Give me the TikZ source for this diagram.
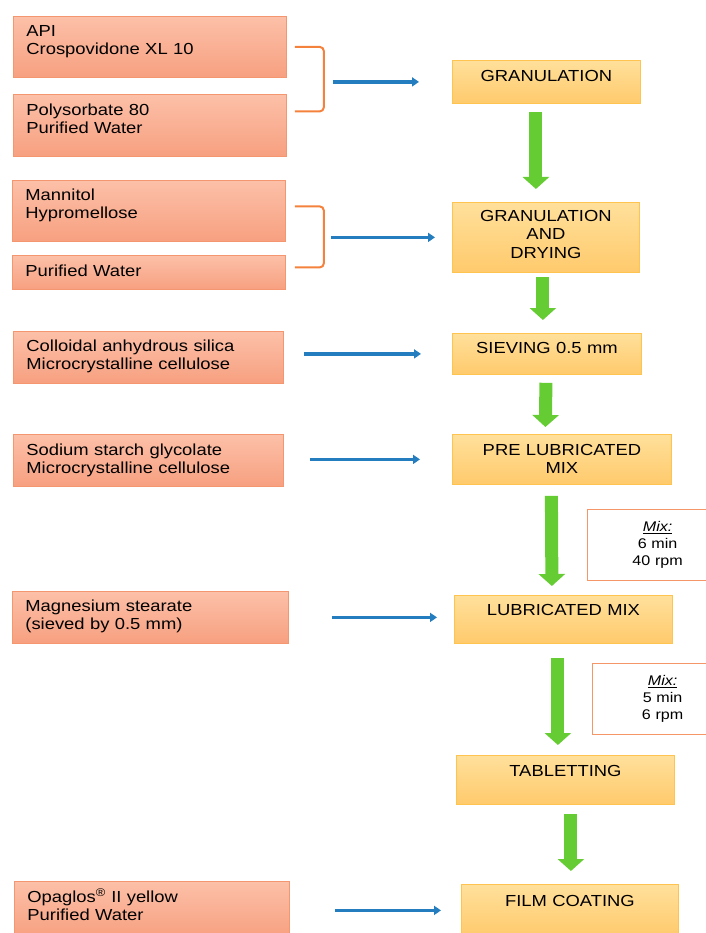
\documentclass[tikz,border=0pt]{standalone}
\usepackage{fontspec}
\setmainfont{Liberation Sans}[FakeStretch=1.15]
\usetikzlibrary{arrows.meta}

\definecolor{ingrtop}{RGB}{252,192,168}
\definecolor{ingrbot}{RGB}{247,160,128}
\definecolor{ingrline}{RGB}{244,150,112}
\definecolor{stagetop}{RGB}{255,224,155}
\definecolor{stagebot}{RGB}{255,202,108}
\definecolor{stageline}{RGB}{255,196,80}
\definecolor{flowgreen}{RGB}{102,204,51}
\definecolor{feedblue}{RGB}{36,125,190}
\definecolor{braceorange}{RGB}{245,130,60}
\definecolor{mixline}{RGB}{245,150,105}

\begin{document}
\begin{tikzpicture}[x=1pt, y=-1pt,
    ingr/.style={draw=ingrline, line width=0.8pt, top color=ingrtop, bottom color=ingrbot,
        anchor=north west, align=left, inner xsep=13pt, inner ysep=0pt,
        text width=247pt, text height=20pt, font=\fontsize{16}{18}\selectfont},
    stage/.style={draw=stageline, line width=0.8pt, top color=stagetop, bottom color=stagebot,
        anchor=north west, align=center, inner xsep=4pt, inner ysep=0pt,
        text height=21pt, font=\fontsize{16}{18.5}\selectfont},
    mixbox/.style={draw=mixline, line width=1.2pt, fill=white, anchor=north west,
        align=center, inner xsep=4pt, inner ysep=0pt, text width=132pt,
        text height=22pt, text depth=49pt, font=\fontsize{14}{17}\selectfont},
    flow/.style={draw=flowgreen, line width=13pt, -{Triangle[width=26pt,length=12pt]}},
    feed/.style={draw=feedblue, line width=3.5pt, -{Triangle[width=9pt,length=7pt]}},
    brace/.style={draw=braceorange, line width=2pt, rounded corners=4pt}]

    \useasboundingbox (0,0) rectangle (705,933);

    % Ingredients
    \node[ingr, text depth=41pt] (api) at (13,16) {API\\Crospovidone XL 10};
    \node[ingr, text height=21pt, text depth=41pt] (poly) at (13,94) {Polysorbate 80\\Purified Water};
    \node[ingr, text depth=41pt] (mann) at (12,180) {Mannitol\\Hypromellose};
    \node[ingr, text height=21pt, text depth=13pt] (water) at (12,255) {Purified Water};
    \node[ingr, text depth=32pt, text width=244pt] (silica) at (13,331) {Colloidal anhydrous silica\\Microcrystalline cellulose};
    \node[ingr, text height=21pt, text depth=31pt, text width=244pt] (starch) at (13,434) {Sodium starch glycolate\\Microcrystalline cellulose};
    \node[ingr, text depth=32pt, text width=250pt] (mgst) at (12,591) {Magnesium stearate\\(sieved by 0.5 mm)};
    \node[ingr, text height=21pt, text depth=35pt, text width=249pt] (opa) at (14,881) {Opaglos\textsuperscript{\textregistered} II yellow\\Purified Water};

    % Process steps
    \node[stage, text depth=22pt, text width=180pt] (gran) at (452,60) {GRANULATION};
    \node[stage, text height=19pt, text depth=51pt, text width=179pt] (dry) at (452,202) {GRANULATION\\AND\\DRYING};
    \node[stage, text height=20pt, text depth=21pt, text width=181pt] (sieve) at (452,333) {SIEVING 0.5 mm};
    \node[stage, text depth=29pt, text width=211pt] (prelub) at (452,434) {PRE LUBRICATED\\MIX};
    \node[stage, text height=20pt, text depth=28pt, text width=210pt] (lub) at (454,595) {LUBRICATED MIX};
    \node[stage, text depth=28pt, text width=210pt] (tablet) at (456,755) {TABLETTING};
    \node[stage, text height=22pt, text depth=30pt, text width=209pt] (film) at (461,884) {FILM COATING};

    % Mixing conditions
    \node[mixbox] (mix1) at (587,509) {\underline{\textit{Mix:}}\\6 min\\40 rpm};
    \node[mixbox] (mix2) at (592,663) {\underline{\textit{Mix:}}\\5 min\\6 rpm};

    % Brackets
    \draw[brace] ([xshift=8pt]api.east) -| ([xshift=37pt,yshift=14pt]poly.east) -- ([xshift=8pt,yshift=14pt]poly.east);
    \draw[brace] ([xshift=9pt,yshift=4.5pt]mann.east) -| ([xshift=38pt,yshift=5pt]water.east) -- ([xshift=9pt,yshift=5pt]water.east);

    % Feeds
    \draw[feed] ([xshift=46pt]api.east |- gran.west) -- ([xshift=-33pt]gran.west);
    \draw[feed] ([xshift=45pt]mann.east |- dry.west) -- ([xshift=-17pt]dry.west);
    \draw[feed] ([xshift=20pt]silica.east |- sieve.west) -- ([xshift=-31pt]sieve.west);
    \draw[feed] ([xshift=26pt]starch.east |- prelub.west) -- ([xshift=-32pt]prelub.west);
    \draw[feed] ([xshift=43pt]mgst.east) -- ([xshift=-17pt]lub.west |- mgst.east);
    \draw[feed] ([xshift=45pt]opa.east |- film.west) -- ([xshift=-20pt]film.west);

    % Flow
    \draw[flow] ([xshift=-10.5pt,yshift=-8pt]gran.south) -- ([xshift=-10pt,yshift=13pt]dry.north);
    \draw[flow] ([xshift=-3pt,yshift=-4pt]dry.south) -- ([xshift=-4pt,yshift=13pt]sieve.north);
    \draw[flow] ([xshift=-1pt,yshift=-8pt]sieve.south) -- ([xshift=-16.5pt,yshift=7pt]prelub.north);
    \draw[flow] ([xshift=-10.5pt,yshift=-11pt]prelub.south) -- ([xshift=-11.5pt,yshift=9pt]lub.north);
    \draw[flow] ([xshift=-5.5pt,yshift=-14pt]lub.south) -- ([xshift=-7.5pt,yshift=10pt]tablet.north);
    \draw[flow] ([xshift=5.5pt,yshift=-9pt]tablet.south) -- ([xshift=1pt,yshift=13pt]film.north);
\end{tikzpicture}
\end{document}
